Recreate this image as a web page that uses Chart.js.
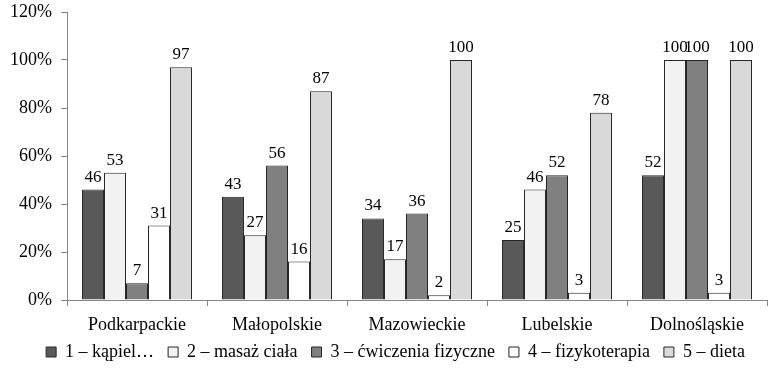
<!DOCTYPE html>
<html>
<head>
<meta charset="utf-8">
<script src="https://cdn.jsdelivr.net/npm/chart.js@4/dist/chart.umd.min.js"></script>
<style>
  html, body { margin: 0; padding: 0; background: #fff; }
  #wrap { width: 771px; height: 373px; }
</style>
</head>
<body>
<div id="wrap"><canvas id="c" width="771" height="373"></canvas></div>
<script>
// Voivodeships (categories)
const regions = ['Podkarpackie', 'Małopolskie', 'Mazowieckie', 'Lubelskie', 'Dolnośląskie'];

// Share of respondents per treatment, in percent
const kapiel        = [46, 43, 34, 25, 52];
const masazCiala    = [53, 27, 17, 46, 100];
const cwiczenia     = [7, 56, 36, 52, 100];
const fizykoterapia = [31, 16, 2, 3, 3];
const dieta         = [97, 87, 100, 78, 100];

const seriesNames = ['1 – kąpiel…', '2 – masaż ciała', '3 – ćwiczenia fizyczne', '4 – fizykoterapia', '5 – dieta'];
const yTicks = [0, 20, 40, 60, 80, 100, 120];

const fills = ['#595959', '#f2f2f2', '#808080', '#ffffff', '#d9d9d9'];
const FONT = "'Liberation Serif', 'Times New Roman', serif";
Chart.defaults.font.family = FONT;

// Draws each bar's value just above it
const valueLabels = {
  id: 'valueLabels',
  afterDatasetsDraw(chart) {
    const ctx = chart.ctx;
    ctx.save();
    ctx.font = "17px 'Liberation Serif', serif";
    ctx.fillStyle = '#000';
    ctx.textAlign = 'center';
    ctx.textBaseline = 'alphabetic';
    chart.data.datasets.forEach((ds, i) => {
      const meta = chart.getDatasetMeta(i);
      meta.data.forEach((bar, j) => {
        ctx.fillText(String(ds.data[j]), bar.x, bar.y - 8);
      });
    });
    ctx.restore();
  }
};

// Moves the legend row closer to the category labels and under the plot
const legendShift = {
  id: 'legendShift',
  afterLayout(chart) {
    if (chart.legend) {
      chart.legend.left += 24;
      chart.legend.top -= 7;
    }
  }
};

const allSeries = [kapiel, masazCiala, cwiczenia, fizykoterapia, dieta];

new Chart(document.getElementById('c'), {
  type: 'bar',
  data: {
    labels: regions,
    datasets: allSeries.map((d, i) => ({
      label: seriesNames[i],
      data: d,
      backgroundColor: fills[i],
      borderColor: '#262626',
      borderWidth: 1,
      categoryPercentage: 0.786,
      barPercentage: 1.0
    }))
  },
  options: {
    responsive: false,
    animation: false,
    devicePixelRatio: 1,
    layout: { padding: { top: 12, right: 4, left: 0, bottom: -5 } },
    plugins: {
      tooltip: { enabled: false },
      legend: {
        position: 'bottom',
        labels: {
          color: '#000',
          font: { family: FONT, size: 18 },
          boxWidth: 10,
          boxHeight: 10,
          padding: 14,
          generateLabels(chart) {
            return chart.data.datasets.map((ds, i) => ({
              text: ds.label,
              fillStyle: ds.backgroundColor,
              strokeStyle: '#262626',
              lineWidth: 1,
              datasetIndex: i
            }));
          }
        }
      }
    },
    scales: {
      x: {
        afterFit(scale) { scale.height = 36; },
        grid: { display: true, drawOnChartArea: false, drawTicks: true, tickLength: 6, color: '#868686', offset: true },
        border: { display: true, color: '#868686', width: 1 },
        ticks: { color: '#000', font: { family: FONT, size: 18 }, padding: 8, maxRotation: 0 }
      },
      y: {
        min: 0,
        max: 120,
        afterBuildTicks(scale) { scale.ticks = yTicks.map(v => ({ value: v })); },
        afterFit(scale) {
          scale.width = 67;
          scale.paddingTop = 0;
          scale.paddingBottom = 0;
        },
        grid: { display: true, drawOnChartArea: false, drawTicks: true, tickLength: 6, color: '#868686' },
        border: { display: true, color: '#868686', width: 1 },
        ticks: { color: '#000', font: { family: FONT, size: 18 }, padding: 9, callback: v => v + '%' }
      }
    }
  },
  plugins: [valueLabels, legendShift]
});
</script>
</body>
</html>
